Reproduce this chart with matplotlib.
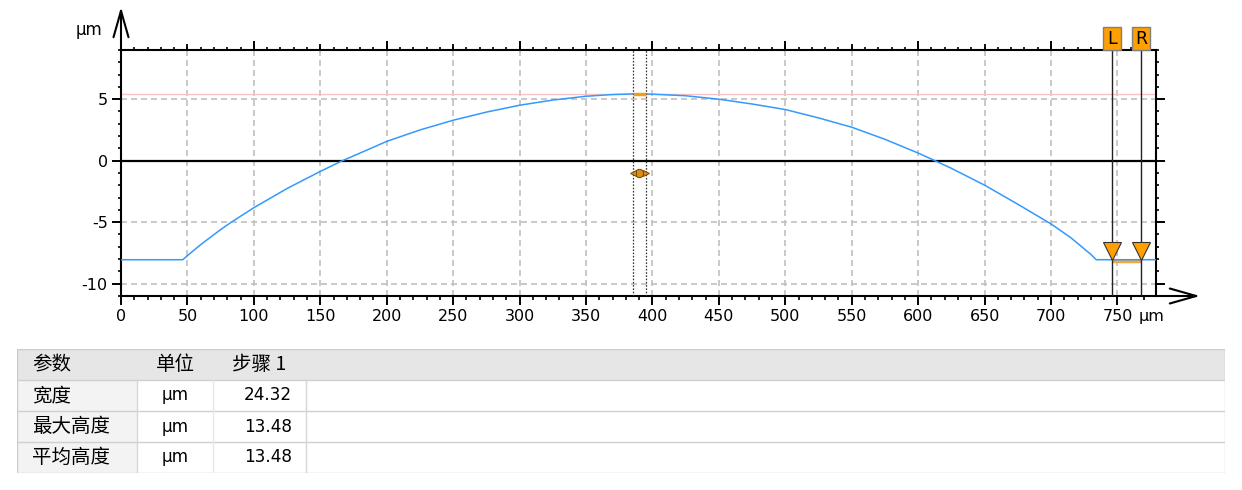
import matplotlib
matplotlib.use('Agg')
import matplotlib.pyplot as plt
import matplotlib.transforms as mtransforms
from matplotlib.patches import Rectangle
from matplotlib.ticker import MultipleLocator, FixedLocator

# ---------------- data ----------------
profile_x = [0, 46.5, 50, 60, 75, 83, 100, 125, 150, 167, 175, 200, 225, 250,
             275, 300, 325, 350, 370, 388, 400, 425, 450, 475, 500, 525, 550,
             575, 600, 611, 625, 650, 675, 700, 715, 730, 734, 779]
profile_y = [-8.05, -8.05, -7.72, -6.82, -5.6, -5.0, -3.82, -2.26, -0.87,
             0.02, 0.39, 1.57, 2.5, 3.29, 3.95, 4.51, 4.93, 5.24, 5.38, 5.44,
             5.41, 5.28, 5.0, 4.61, 4.16, 3.48, 2.72, 1.74, 0.62, 0.08, -0.62,
             -1.99, -3.54, -5.14, -6.27, -7.62, -8.05, -8.05]
peak_level = 5.44
base_level = -8.05
peak_window = [385, 395]
center_x = 390
center_y = -1.0
cursor_pos = [746, 768]
cursor_names = ['L', 'R']
x_ticks = list(range(0, 751, 50))
y_ticks = [-10, -5, 0, 5]
x_range = (0, 779)
y_range = (-11, 9)
unit_label = 'μm'

table_header = ['参数', '单位', '步骤 1']
table_params = ['宽度', '最大高度', '平均高度']
table_units = ['μm', 'μm', 'μm']
table_values = ['24.32', '13.48', '13.48']

# ---------------- figure ----------------
plt.rcParams['font.family'] = ['DejaVu Sans']
plt.rcParams['axes.unicode_minus'] = False
CJK = ['Noto Sans CJK SC', 'DejaVu Sans']
W, H = 1242, 490
fig = plt.figure(figsize=(W / 100, H / 100), dpi=100)


def rect(l, t, r, b):
    return [l / W, 1 - b / H, (r - l) / W, (b - t) / H]


ax = fig.add_axes(rect(121, 50, 1156, 296))
ax.set_xlim(*x_range)
ax.set_ylim(*y_range)

for s in ax.spines.values():
    s.set_linewidth(1.5)
    s.set_color('black')

ax.xaxis.set_major_locator(FixedLocator(x_ticks))
ax.xaxis.set_minor_locator(MultipleLocator(10))
ax.yaxis.set_major_locator(FixedLocator(y_ticks))
ax.yaxis.set_minor_locator(MultipleLocator(1))
ax.tick_params(axis='x', which='major', direction='out', length=6.5, width=1.4,
               pad=3, labelsize=11.5, bottom=True, top=False)
ax.tick_params(axis='x', which='minor', direction='out', length=3, width=1.2,
               bottom=True, top=False)
ax.tick_params(axis='y', which='major', direction='out', length=6.5, width=1.4,
               pad=3, labelsize=11.5, left=True, right=True)
ax.tick_params(axis='y', which='minor', direction='out', length=2.5, width=1.2,
               left=True, right=True)

# top ticks (three levels)
ax_top = ax.twiny()
ax_top.set_xlim(*x_range)
ax_top.xaxis.set_major_locator(MultipleLocator(100))
ax_top.xaxis.set_minor_locator(MultipleLocator(10))
ax_top.tick_params(axis='x', which='major', direction='out', length=6.5, width=1.4,
                   top=True, labeltop=False)
ax_top.tick_params(axis='x', which='minor', direction='out', length=2.3, width=1.2,
                   top=True)
ax_top2 = ax.twiny()
ax_top2.set_xlim(*x_range)
ax_top2.xaxis.set_major_locator(MultipleLocator(50))
ax_top2.xaxis.set_minor_locator(plt.NullLocator())
ax_top2.tick_params(axis='x', which='major', direction='out', length=4, width=1.3,
                    top=True, labeltop=False)
for a in (ax_top, ax_top2):
    for s in a.spines.values():
        s.set_visible(False)
    a.set_zorder(ax.get_zorder() - 1)
ax.patch.set_visible(False)

# grid
dash = (0, (3.6, 2.4))
ax.grid(True, which='major', color='#c0c0c0', lw=1.2, linestyle=dash)
ax.set_axisbelow(True)

# reference lines
ax.axhline(0, color='black', lw=1.6, zorder=2)
ax.axhline(peak_level, color='#f7c3c3', lw=1, zorder=1.5)

# bottom orange band between cursors
ax.plot(cursor_pos, [base_level] * 2, color='#f0a840', lw=2.5,
        solid_capstyle='butt', zorder=2.5,
        transform=mtransforms.offset_copy(ax.transData, fig=fig, y=-1.2,
                                          units='points'))

# profile
ax.plot(profile_x, profile_y, color='#3399ff', lw=1.1, zorder=3,
        solid_joinstyle='round')

# peak window
ax.plot(peak_window, [peak_level] * 2, color='#e8a020', lw=2.5,
        solid_capstyle='butt', zorder=3.5)
for xv in peak_window:
    ax.axvline(xv, color='#333333', lw=0.9, linestyle=(0, (1.3, 1.3)), zorder=3)

# center marker
ax.plot([center_x], [center_y], 'o', ms=6, mfc='#d98c1a', mec='#6b4000',
        mew=0.7, zorder=5)
ax.plot([peak_window[0]], [center_y], '<', ms=4.5, mfc='#d98c1a', mec='#6b4000',
        mew=0.6, zorder=5)
ax.plot([peak_window[1]], [center_y], '>', ms=4.5, mfc='#d98c1a', mec='#6b4000',
        mew=0.6, zorder=5)

# cursors L / R
tri_ms = 13
tri_trans = mtransforms.offset_copy(ax.transData, fig=fig, y=tri_ms / 2,
                                    units='points')
for xv, name in zip(cursor_pos, cursor_names):
    ax.axvline(xv, color='#222222', lw=1, zorder=4)
    ax.plot([xv], [base_level], 'v', ms=tri_ms, mfc='#ffa000', mec='#333333',
            mew=0.8, transform=tri_trans, zorder=6, clip_on=False)
    t = mtransforms.ScaledTranslation(xv, 1, ax.get_xaxis_transform())
    ax.add_patch(Rectangle((-9, 0), 18, 23, transform=t, clip_on=False,
                           fc='#ffa000', ec='#808080', lw=1, zorder=7))
    ax.text(0, 11, name, transform=t, ha='center', va='center', fontsize=12.5,
            color='black', zorder=8, clip_on=False)

# axis arrows
arrow = dict(arrowstyle='->,head_length=0.95,head_width=0.27', lw=1.5,
             color='black', shrinkA=0, shrinkB=0, mutation_scale=20)
tl = mtransforms.ScaledTranslation(0, 1, ax.transAxes)
ax.annotate('', xy=(0, 43), xycoords=tl, xytext=(0, 0), textcoords=tl,
            arrowprops=arrow, annotation_clip=False)
br = mtransforms.ScaledTranslation(1, 0, ax.transAxes)
ax.annotate('', xy=(44, 0), xycoords=br, xytext=(0, 0), textcoords=br,
            arrowprops=arrow, annotation_clip=False)

# unit labels
fig.text(89 / W, 1 - 30 / H, unit_label, ha='center', va='center', fontsize=12)
ax.annotate(unit_label, xy=(776, 0), xycoords=ax.get_xaxis_transform(),
            xytext=(0, -9.5), textcoords='offset points', ha='center', va='top',
            fontsize=11.5, annotation_clip=False)

# ---------------- table ----------------
tab = fig.add_axes(rect(17, 349, 1225, 473))
tab.set_xlim(17, 1225)
tab.set_ylim(473, 349)
tab.axis('off')
row_h = 31
top = 349
tab.add_patch(Rectangle((17, top), 1208, row_h, fc='#e6e6e6', ec='none'))
for i in range(len(table_params)):
    tab.add_patch(Rectangle((17, top + row_h * (i + 1)), 120, row_h,
                            fc='#f3f3f3', ec='none'))
for i in range(1, len(table_params) + 1):
    tab.plot([17, 1225], [top + row_h * i] * 2, color='#cfcfcf', lw=1)
body_top = top + row_h
body_bot = top + row_h * (len(table_params) + 1)
for xv, c in [(137, '#d6d6d6'), (213, '#e6e6e6'), (306, '#d6d6d6')]:
    tab.plot([xv, xv], [body_top, body_bot], color=c, lw=1)
tab.add_patch(Rectangle((17, top), 1208, body_bot - top, fc='none',
                        ec='#cccccc', lw=1))

cjk_size = 14
lat_size = 12.2
hy = top + row_h / 2
tab.text(32, hy, table_header[0], ha='left', va='center', fontsize=cjk_size,
         family=CJK)
tab.text(175, hy, table_header[1], ha='center', va='center', fontsize=cjk_size,
         family=CJK)
tab.text(232, hy, table_header[2], ha='left', va='center', fontsize=cjk_size,
         family=CJK)
for i, (p, u, v) in enumerate(zip(table_params, table_units, table_values)):
    yc = top + row_h * (i + 1) + row_h / 2
    tab.text(32, yc, p, ha='left', va='center', fontsize=cjk_size, family=CJK)
    tab.text(175, yc, u, ha='center', va='center', fontsize=lat_size)
    tab.text(292, yc, v, ha='right', va='center', fontsize=lat_size)

fig.savefig('out.png', dpi=100)
